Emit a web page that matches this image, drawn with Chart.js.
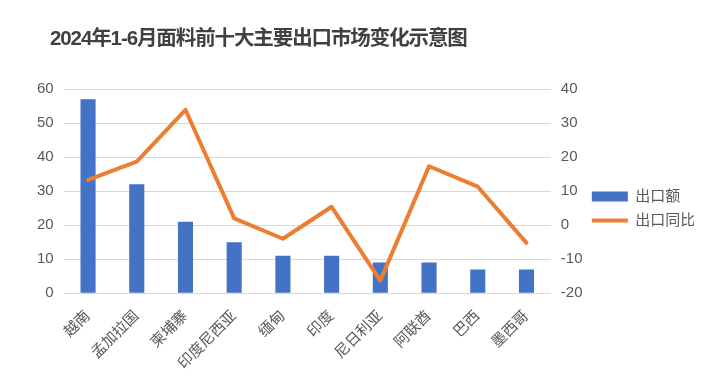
<!DOCTYPE html>
<html>
<head>
<meta charset="utf-8">
<script src="https://cdn.jsdelivr.net/npm/chart.js@4"></script>
<style>
  html, body { margin: 0; padding: 0; background: #fff; }
  #wrap { position: relative; width: 714px; height: 391px; }
  #title {
    position: absolute; left: 50px; top: 27px;
    font: bold 20.5px/22px "Liberation Sans", "Noto Sans CJK SC", sans-serif;
    letter-spacing: -1.1px;
    color: #404040; white-space: nowrap;
  }
</style>
</head>
<body>
<div id="wrap">
  <canvas id="MyChart" width="714" height="391"></canvas>
  <div id="title">2024年1-6月面料前十大主要出口市场变化示意图</div>
</div>
<script>
const countries = ['越南','孟加拉国','柬埔寨','印度尼西亚','缅甸','印度','尼日利亚','阿联酋','巴西','墨西哥'];

const exportValue = [57, 32, 21, 15, 11, 11, 9, 9, 7, 7];

const exportYoY = [13.3, 18.7, 33.9, 2.0, -4.0, 5.4, -16.3, 17.3, 11.3, -5.2];

const font = '"Liberation Sans", "Noto Sans CJK SC", sans-serif';
const grey = '#595959';

const data = {
  labels: countries,
  datasets: [{
    type: 'bar',
    label: '出口额',
    backgroundColor: '#4472C4',
    borderWidth: 0,
    data: exportValue,
    yAxisID: 'y',
    barPercentage: 0.31,
    categoryPercentage: 1,
    order: 2
  },
  {
    type: 'line',
    label: '出口同比',
    borderColor: '#ED7D31',
    backgroundColor: '#ED7D31',
    borderWidth: 4,
    borderJoinStyle: 'round',
    borderCapStyle: 'round',
    pointRadius: 0,
    tension: 0,
    data: exportYoY,
    yAxisID: 'y1',
    order: 1
  }]
};

const config = {
  type: 'bar',
  data: data,
  options: {
    responsive: false,
    animation: false,
    layout: { padding: { top: 89, left: 27, right: 20, bottom: 12 } },
    plugins: {
      title: { display: false },
      tooltip: { enabled: false },
      legend: {
        position: 'right',
        fullSize: false,
        // empty legend title, only pushes the two items down a little
        title: { display: true, text: ' ', font: { size: 10, lineHeight: 1 }, padding: { top: 25, bottom: 0 } },
        labels: {
          usePointStyle: true,
          pointStyleWidth: 36,
          boxHeight: 10,
          padding: 9,
          color: grey,
          font: { family: font, size: 15 },
          generateLabels: chart => chart.data.datasets.map((ds, i) => ({
            text: ds.label,
            fillStyle: ds.backgroundColor,
            strokeStyle: ds.type === 'line' ? ds.borderColor : ds.backgroundColor,
            lineWidth: ds.type === 'line' ? 4 : 0,
            pointStyle: ds.type === 'line' ? 'line' : 'rect',
            fontColor: grey,
            hidden: false,
            datasetIndex: i
          }))
        }
      }
    },
    scales: {
      x: {
        grid: { display: false },
        border: { display: false },
        ticks: {
          color: grey, font: { family: font, size: 15 },
          minRotation: 45, maxRotation: 45, padding: 6, autoSkip: false
        }
      },
      y: {
        position: 'left',
        min: 0, max: 60,
        ticks: { stepSize: 10, color: grey, font: { family: font, size: 15 }, padding: 10 },
        grid: { color: '#d9d9d9', drawTicks: false },
        border: { display: false }
      },
      y1: {
        position: 'right',
        min: -20, max: 40,
        ticks: { stepSize: 10, color: grey, font: { family: font, size: 15 }, padding: 10 },
        grid: { drawOnChartArea: false, drawTicks: false },
        border: { display: false },
        afterFit: scale => { scale.width = 32; }
      }
    }
  }
};

const myChart = new Chart(document.getElementById('MyChart'), config);
</script>
</body>
</html>
